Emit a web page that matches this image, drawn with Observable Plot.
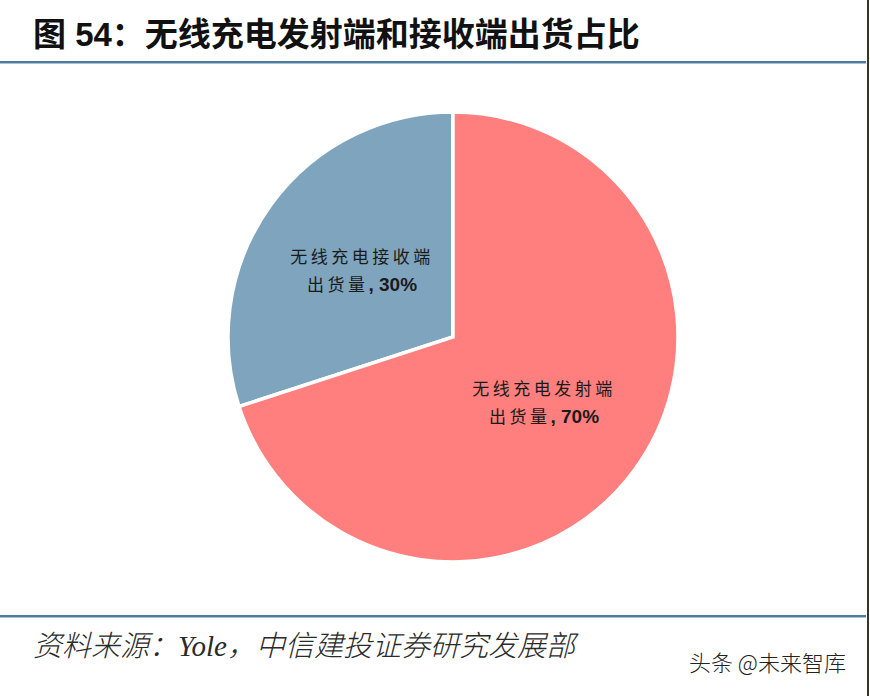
<!DOCTYPE html>
<html>
<head>
<meta charset="utf-8">
<script src="https://cdn.jsdelivr.net/npm/d3@7"></script>
<script src="https://cdn.jsdelivr.net/npm/@observablehq/plot@0.6"></script>
<style>
  html, body { margin: 0; padding: 0; background: #fff; }
  #page { position: relative; width: 870px; height: 696px; overflow: hidden; background: #fff; }
  #title { position: absolute; left: 33px; top: 15px; font-family: "Liberation Sans", "Noto Sans CJK SC", sans-serif; font-weight: bold; font-size: 33px; color: #111; white-space: nowrap; line-height: 40px; }
  .hline { position: absolute; left: 0; width: 866px; height: 2px; background: #4f7ba0; border-bottom: 1px solid #a9c1d6; }
  #vline { position: absolute; left: 867px; top: 0; width: 2px; height: 696px; background: #3b3526; }
  #chart { position: absolute; left: 0; top: 64px; }
  #caption { position: absolute; left: 33px; top: 627px; font-family: "Liberation Serif", "Noto Sans CJK SC", serif; font-style: italic; font-weight: 300; font-size: 29px; color: #2a2a2a; white-space: nowrap; line-height: 38px; }
  #mark { position: absolute; left: 689px; top: 646px; font-family: "Noto Sans CJK SC", sans-serif; font-weight: 300; font-size: 22px; color: #222; white-space: nowrap; line-height: 30px; }
</style>
</head>
<body>
<div id="page">
  <div id="title">图 54：无线充电发射端和接收端出货占比</div>
  <div class="hline" style="top:61px"></div>
  <div id="chart"></div>
  <div class="hline" style="top:615px"></div>
  <div id="vline"></div>
  <div id="caption">资料来源：Yole，中信建投证券研究发展部</div>
  <div id="mark">头条 @未来智库</div>
</div>
<script>
// Data
const categories = ["无线充电接收端", "无线充电发射端"];
const labelPrefix = ["出货量", "出货量"];
const shares = [30, 70];
const colors = ["#7fa5be", "#ff7f7f"];

const data = categories.map((c, i) => ({ name: c, prefix: labelPrefix[i], value: shares[i], color: colors[i] }));

// pie: receiver slice goes counter-clockwise from 12 o'clock, transmitter clockwise
const pieGen = d3.pie().value(d => d.value).sort(null).startAngle(-Math.PI * 0.6).endAngle(Math.PI * 1.4);

function pieMark(index, scales, values, dimensions, context) {
  const cx = scales.x(0), cy = scales.y(0);
  const r = Math.abs(scales.x(1) - scales.x(0));
  const arcs = pieGen(data);
  const arc = d3.arc().innerRadius(0).outerRadius(r);
  const g = d3.create("svg:g").attr("transform", `translate(${cx},${cy})`);
  g.selectAll("path").data(arcs).join("path")
    .attr("d", arc)
    .attr("fill", d => d.data.color)
    .attr("stroke", "#fff")
    .attr("stroke-width", 3.5)
    .attr("stroke-linejoin", "miter");
  const t = g.selectAll("text").data(arcs).join("text")
    .attr("transform", d => { const [x, y] = arc.centroid(d); return `translate(${x},${y})`; })
    .attr("text-anchor", "middle")
    .attr("fill", "#1a1a1a");
  t.append("tspan")
    .attr("x", 0).attr("dy", -8)
    .attr("font-family", "'Noto Sans CJK SC', sans-serif")
    .attr("font-size", 17).attr("letter-spacing", 3.5)
    .text(d => d.data.name);
  const l2 = t.append("tspan").attr("x", 0).attr("dy", 28);
  l2.append("tspan")
    .attr("font-family", "'Noto Sans CJK SC', sans-serif")
    .attr("font-size", 17).attr("letter-spacing", 3.5)
    .text(d => d.data.prefix);
  l2.append("tspan")
    .attr("font-family", "'Liberation Sans', Arial, sans-serif")
    .attr("font-size", 19).attr("font-weight", "bold")
    .text(d => `, ${d.data.value}%`);
  return g.node();
}

const chart = Plot.plot({
  width: 870,
  height: 550,
  marginLeft: 228,
  marginRight: 192,
  marginTop: 48,
  marginBottom: 52,
  x: { domain: [-1, 1], axis: null },
  y: { domain: [-1, 1], axis: null },
  style: { background: "transparent", overflow: "visible" },
  marks: [pieMark]
});
document.getElementById("chart").appendChild(chart);
</script>
</body>
</html>
